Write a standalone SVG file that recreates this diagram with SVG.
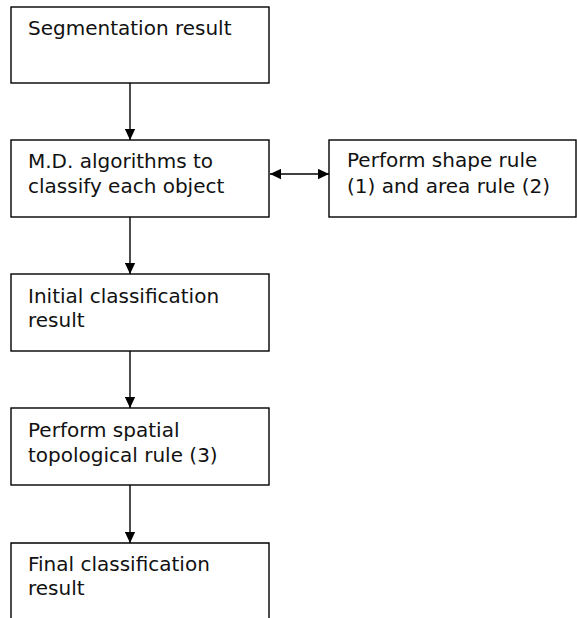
<svg xmlns="http://www.w3.org/2000/svg" width="577" height="618" viewBox="0 0 577 618">
<defs>
<style>
.box{fill:#fff;stroke:#000;stroke-width:1.4}
.t{font-family:"DejaVu Sans",Verdana,sans-serif;font-size:20px;fill:#111}
.c{stroke:#000;stroke-width:1.4;fill:none}
</style>
<marker id="ah" viewBox="0 0 10 10" refX="10" refY="5" markerWidth="11" markerHeight="11" markerUnits="userSpaceOnUse" orient="auto-start-reverse">
<path d="M0,0.3 L10,5 L0,9.7 Z" fill="#000"/>
</marker>
</defs>
<rect width="577" height="618" fill="#fff"/>
<g id="connectors">
<line class="c" x1="130" y1="83" x2="130" y2="140" marker-end="url(#ah)"/>
<line class="c" x1="130" y1="217" x2="130" y2="274" marker-end="url(#ah)"/>
<line class="c" x1="130" y1="351" x2="130" y2="408" marker-end="url(#ah)"/>
<line class="c" x1="130" y1="485" x2="130" y2="543" marker-end="url(#ah)"/>
<line class="c" x1="270" y1="174" x2="329" y2="174" marker-start="url(#ah)" marker-end="url(#ah)"/>
</g>
<g id="n1">
<rect class="box" x="11" y="7" width="258" height="76"/>
<text class="t" x="28" y="35">Segmentation result</text>
</g>
<g id="n2">
<rect class="box" x="11" y="140" width="258" height="77"/>
<text class="t" x="28" y="168">M.D. algorithms to</text>
<text class="t" x="28" y="193">classify each object</text>
</g>
<g id="n3">
<rect class="box" x="329" y="140" width="247" height="77"/>
<text class="t" x="347" y="167">Perform shape rule</text>
<text class="t" x="347" y="193">(1) and area rule (2)</text>
</g>
<g id="n4">
<rect class="box" x="11" y="274" width="258" height="77"/>
<text class="t" x="28" y="303">Initial classification</text>
<text class="t" x="28" y="327">result</text>
</g>
<g id="n5">
<rect class="box" x="11" y="408" width="258" height="77"/>
<text class="t" x="28" y="437">Perform spatial</text>
<text class="t" x="28" y="462">topological rule (3)</text>
</g>
<g id="n6">
<path class="box" d="M11,620 L11,543 L269,543 L269,620"/>
<text class="t" x="28" y="571">Final classification</text>
<text class="t" x="28" y="595">result</text>
</g>
</svg>
